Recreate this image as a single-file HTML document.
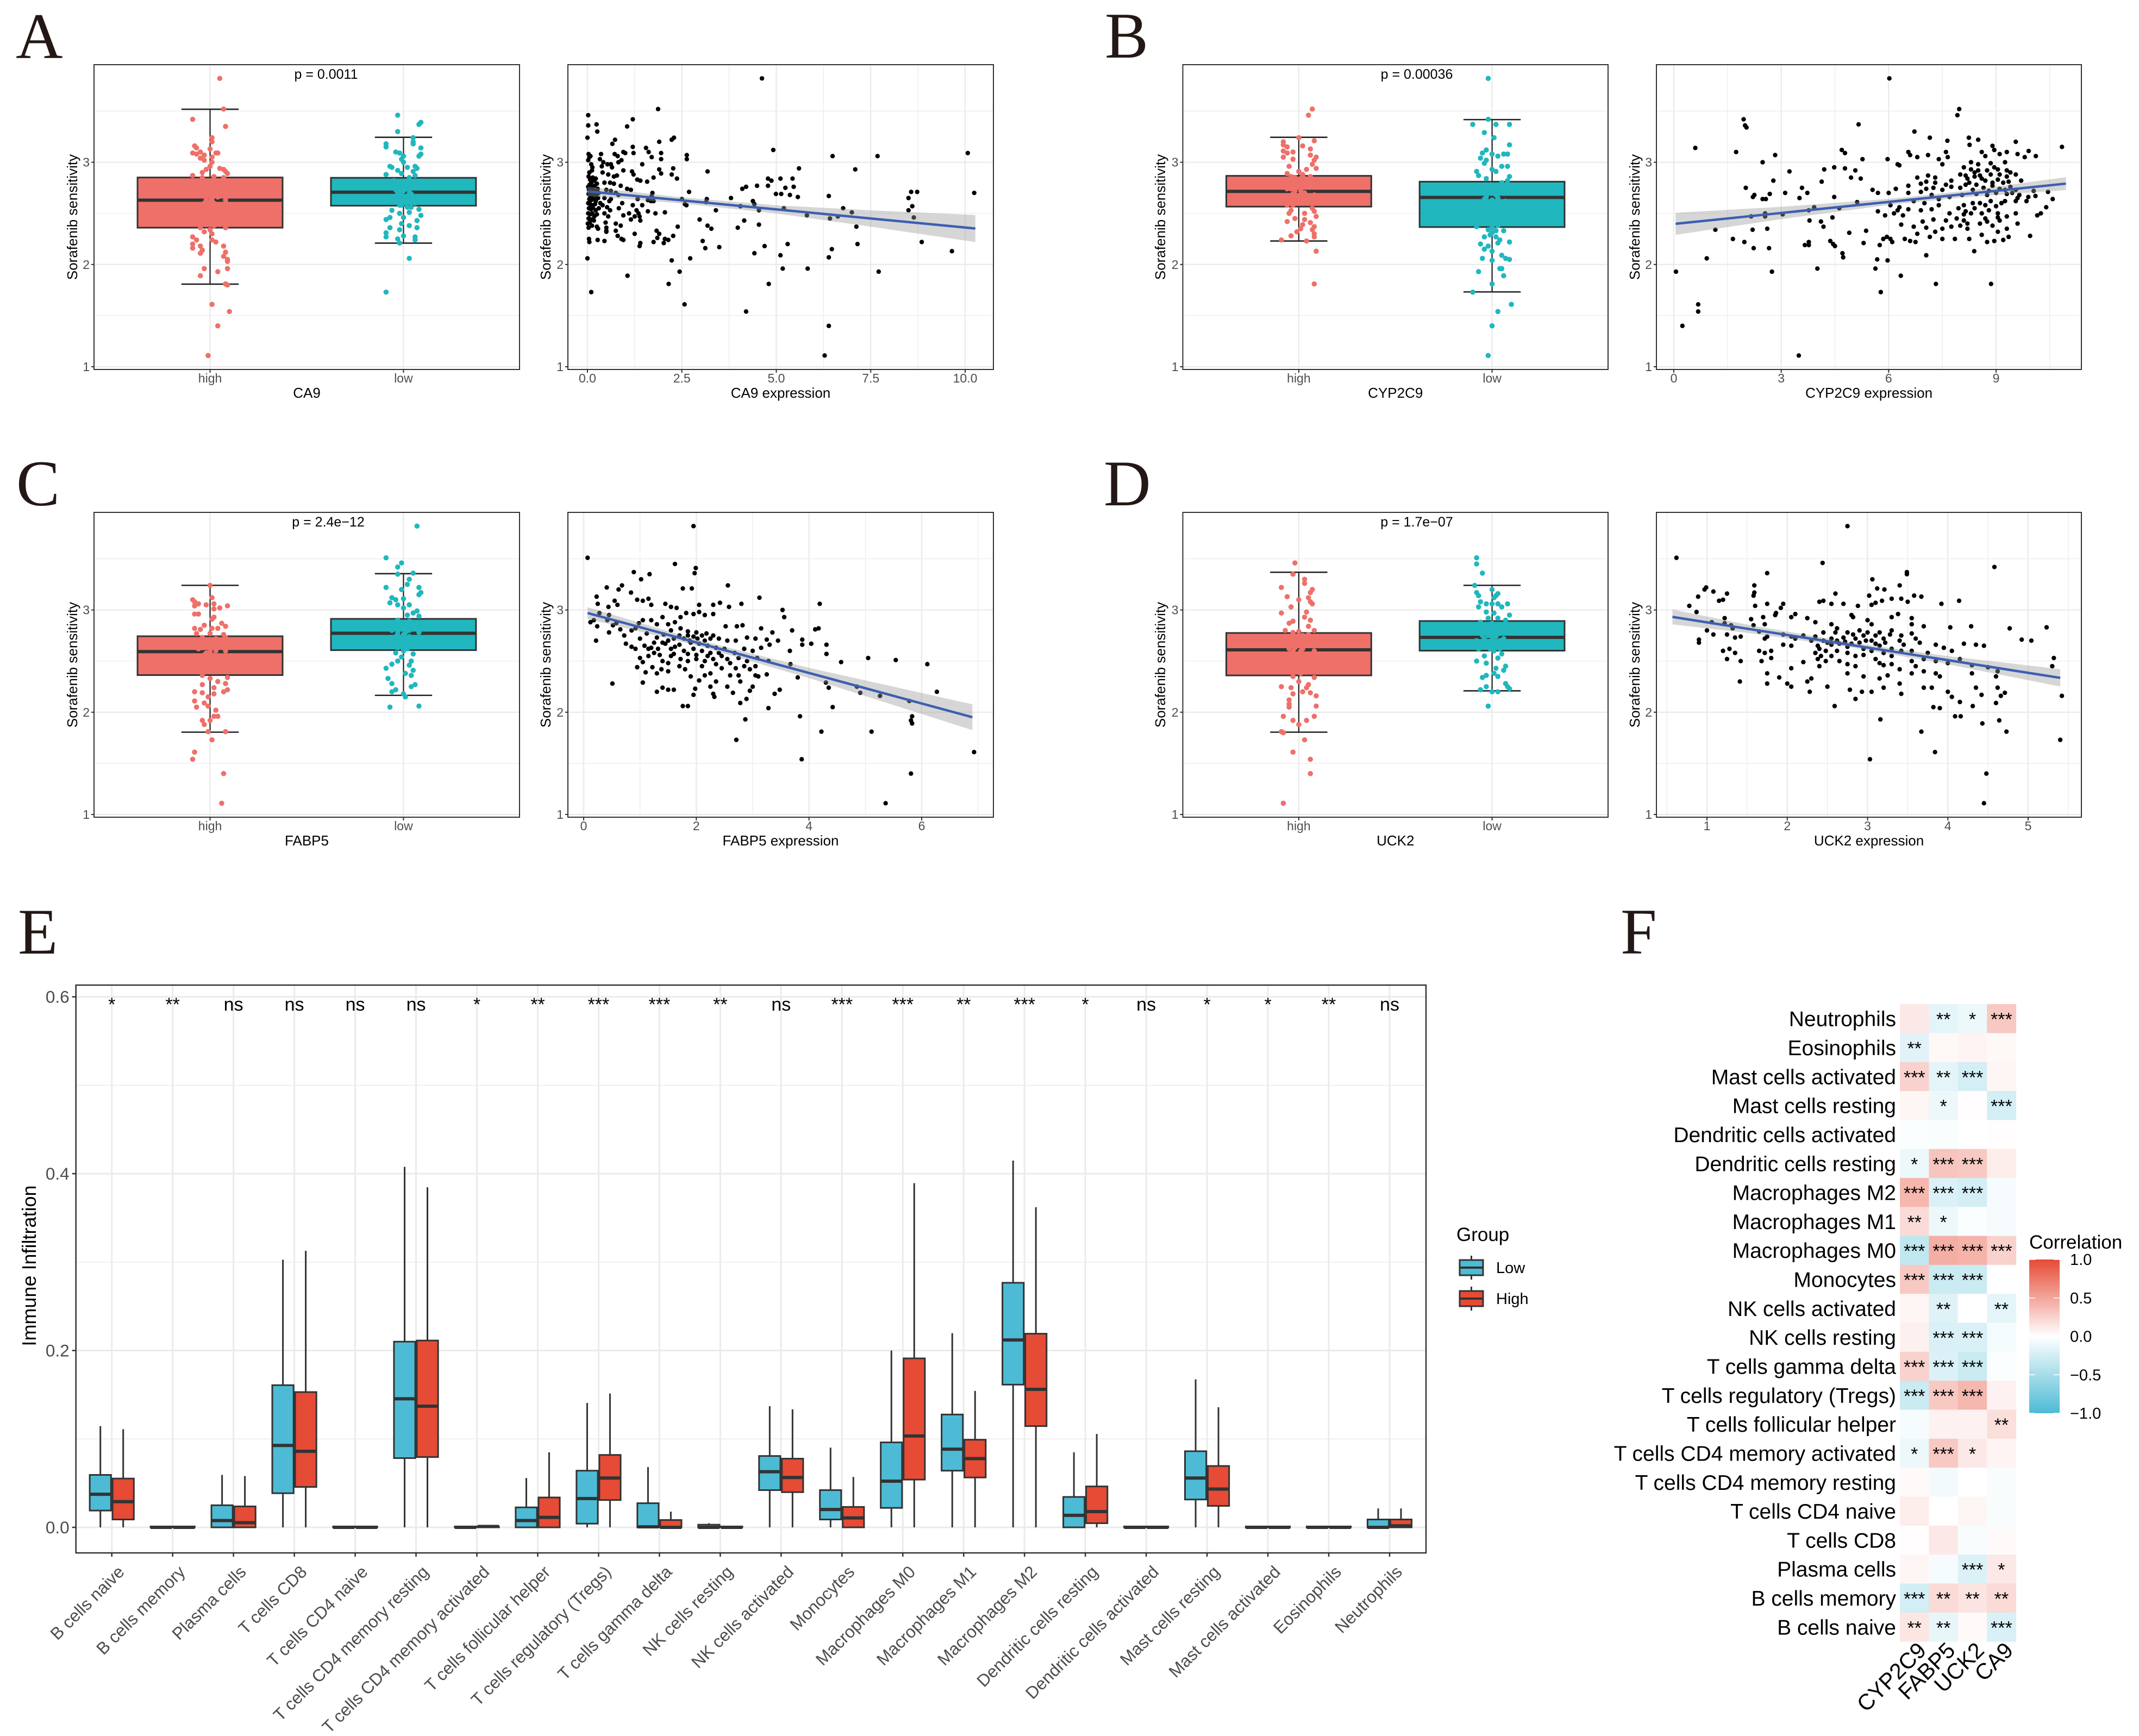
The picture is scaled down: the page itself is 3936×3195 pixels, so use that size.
<!DOCTYPE html>
<html lang="en">
<head>
<meta charset="utf-8">
<title>Sorafenib sensitivity and immune infiltration figure</title>
<style>
html,body{margin:0;padding:0;background:#fff;}
svg{display:block;font-family:"Liberation Sans",Arial,sans-serif;}
.letter{font-family:"Liberation Serif","Times New Roman",serif;font-size:120px;fill:#231815;}
</style>
</head>
<body>
<svg id="fig" xmlns="http://www.w3.org/2000/svg" width="3936" height="3195" viewBox="0 0 3936 3195">
<rect width="3936" height="3195" fill="#fff"/>
<defs>
<linearGradient id="corrGrad" x1="0" y1="0" x2="0" y2="1">
<stop offset="0" stop-color="#E64B35"/><stop offset="0.5" stop-color="#ffffff"/><stop offset="1" stop-color="#4DBBD5"/>
</linearGradient>
</defs>
<text class="letter" x="29" y="107">A</text>
<text class="letter" x="2033" y="106">B</text>
<text class="letter" x="30" y="930">C</text>
<text class="letter" x="2031" y="930">D</text>
<text class="letter" x="33" y="1755">E</text>
<text class="letter" x="2982" y="1755">F</text>
</svg>
<script>
/* ===== shared axis values ===== */
const sensTicks=[1,2,3];
const sensMinorTicks=[1.5,2.5,3.5];
const groupLabels=["high","low"];

/* ===== box summaries: lower whisker, Q1, median, Q3, upper whisker ===== */
const ca9BoxHigh=[1.808,2.36,2.629,2.851,3.518];
const ca9BoxLow=[2.209,2.575,2.707,2.848,3.244];
const cypBoxHigh=[2.23,2.566,2.715,2.867,3.244];
const cypBoxLow=[1.732,2.366,2.656,2.81,3.417];
const fabBoxHigh=[1.805,2.363,2.593,2.743,3.241];
const fabBoxLow=[2.165,2.607,2.772,2.913,3.355];
const uckBoxHigh=[1.805,2.36,2.61,2.775,3.369];
const uckBoxLow=[2.209,2.602,2.732,2.892,3.241];

/* ===== jittered points: [group position, sensitivity] ===== */
const ca9JitterHigh=[[1.05,3.82],[1.07,3.52],[0.91,3.42],[1.08,3.35],[1.01,3.24],[1.01,3.2],[0.92,3.16],[0.93,3.14],[1,3.13],[0.91,3.09],[0.93,3.08],[0.95,3.1],[0.97,3.07],[1.03,3.09],[1.04,3.09],[0.95,3.04],[0.97,3.02],[1.01,3.05],[1.01,3],[1.0,2.96],[0.98,2.93],[0.96,2.9],[1.07,2.93],[1.08,2.91],[1.09,2.89],[1.05,2.94],[0.91,2.87],[0.96,2.85],[1.02,2.86],[1.07,2.85],[0.94,2.8],[0.98,2.78],[1.03,2.79],[1.06,2.76],[0.97,2.72],[1.01,2.7],[1.06,2.68],[0.98,2.63],[1.01,2.63],[1.08,2.63],[0.96,2.58],[1.03,2.56],[0.99,2.52],[1.05,2.49],[0.96,2.46],[1.02,2.43],[0.98,2.39],[1.08,2.36],[1.0,2.34],[0.97,2.32],[1.01,2.3],[0.91,2.27],[0.93,2.24],[1.01,2.24],[1.03,2.22],[0.91,2.2],[0.95,2.18],[1.07,2.18],[0.91,2.16],[0.96,2.14],[1.08,2.12],[0.95,2.11],[1.07,2.08],[1.09,2.05],[1.09,2.03],[0.97,1.96],[1.04,1.93],[0.95,1.89],[1.09,1.96],[1.08,1.81],[1.09,1.8],[1.01,1.61],[1.1,1.54],[1.04,1.4],[0.99,1.11],[0.99,2.75],[1.02,2.74],[0.96,2.7],[1.04,2.66],[0.98,2.68],[1.0,2.62],[1.02,2.6],[0.97,2.6],[1.01,2.58],[0.99,2.55],[1.03,2.53],[0.98,2.5],[1.01,2.47],[1.04,2.45],[0.97,2.42],[1.0,2.41],[1.02,2.38],[0.95,2.36]];
const ca9JitterLow=[[1.97,3.46],[2.09,3.39],[2.08,3.37],[1.97,3.3],[2.05,3.24],[2.05,3.2],[2.05,3.18],[1.91,3.18],[1.91,3.15],[2.09,3.14],[1.96,3.1],[1.98,3.09],[2.09,3.08],[2.0,3.06],[1.99,3.03],[2.08,3.06],[2.0,3.0],[1.93,2.96],[1.94,2.95],[2.02,2.95],[2.06,2.96],[2.07,2.94],[1.97,2.92],[2.05,2.91],[1.99,2.89],[1.91,2.88],[2.06,2.87],[2.03,2.85],[1.95,2.82],[2.0,2.8],[2.07,2.8],[1.96,2.76],[2.03,2.75],[2.0,2.72],[1.97,2.7],[2.04,2.69],[2.01,2.65],[1.95,2.62],[2.06,2.6],[1.98,2.58],[2.04,2.56],[1.94,2.53],[2.08,2.54],[1.98,2.5],[2.03,2.51],[2.09,2.48],[1.93,2.46],[2.0,2.46],[2.07,2.43],[1.91,2.44],[1.99,2.4],[2.03,2.38],[2.07,2.36],[1.93,2.36],[1.98,2.34],[1.91,2.31],[2.0,2.28],[2.06,2.27],[1.91,2.27],[1.97,2.25],[1.98,2.21],[2.06,2.24],[2.03,2.06],[1.91,1.73],[1.98,2.79],[2.02,2.78],[1.96,2.73],[2.01,2.74],[1.98,2.71],[2.03,2.71],[1.99,2.68],[2.02,2.67],[1.96,2.66],[2.0,2.64],[2.03,2.63],[1.97,2.62],[2.01,2.6],[1.99,2.58],[2.02,2.56]];
const cypJitterHigh=[[1.07,3.52],[1.05,3.46],[1.0,3.24],[1.08,3.21],[0.92,3.2],[0.92,3.17],[1.02,3.16],[0.94,3.15],[1.06,3.13],[0.92,3.11],[0.94,3.09],[0.97,3.1],[1.06,3.07],[1.09,3.05],[0.92,3.05],[0.97,3.03],[1.08,3.02],[1.07,2.98],[0.95,2.96],[1.09,2.94],[1.04,2.93],[1.0,2.91],[0.94,2.89],[1.02,2.88],[1.06,2.86],[0.96,2.86],[1.03,2.84],[1.08,2.83],[0.95,2.82],[0.99,2.8],[1.05,2.79],[1.07,2.77],[0.94,2.74],[0.98,2.72],[1.03,2.7],[1.08,2.68],[0.96,2.66],[1.0,2.62],[1.05,2.6],[0.94,2.58],[1.07,2.55],[0.96,2.53],[1.08,2.52],[0.95,2.5],[1.03,2.5],[1.09,2.47],[0.98,2.45],[1.03,2.44],[0.94,2.42],[1.06,2.41],[1.02,2.39],[1.08,2.37],[1.01,2.35],[1.07,2.34],[0.99,2.32],[1.08,2.3],[0.96,2.28],[1.08,2.27],[0.91,2.24],[1.04,2.23],[1.09,2.13],[1.08,1.81],[0.98,2.85],[1.01,2.84],[0.97,2.78],[1.0,2.76],[1.03,2.77],[0.96,2.74],[1.01,2.72],[0.97,2.69],[1.02,2.68],[0.99,2.66],[1.04,2.65],[0.98,2.63],[1.02,2.6],[0.97,2.58]];
const cypJitterLow=[[1.98,3.82],[1.98,3.42],[1.9,3.37],[2.02,3.37],[2.09,3.37],[1.96,3.29],[2.01,3.24],[2.09,3.17],[1.97,3.12],[1.95,3.09],[2.0,3.08],[2.06,3.08],[2.08,3.08],[1.94,3.04],[1.97,3.02],[2.03,3.06],[1.96,2.99],[2.05,2.96],[2.08,2.96],[2.0,2.93],[1.92,2.91],[2.02,2.91],[2.09,2.86],[1.97,2.84],[1.93,2.87],[2.05,2.8],[2.08,2.82],[1.98,2.76],[2.04,2.73],[1.97,2.7],[2.02,2.68],[1.96,2.64],[2.07,2.62],[2.0,2.6],[1.95,2.56],[2.05,2.54],[1.97,2.5],[2.08,2.46],[1.98,2.42],[2.03,2.38],[1.92,2.37],[1.98,2.34],[2.06,2.33],[1.99,2.29],[1.96,2.27],[2.04,2.24],[2.09,2.22],[1.94,2.2],[1.98,2.18],[2.03,2.21],[1.96,2.15],[2.0,2.13],[2.05,2.09],[2.07,2.06],[2.09,2.05],[1.95,2.06],[2.0,2.04],[1.93,1.93],[2.04,1.96],[2.05,1.96],[2.06,1.89],[2.0,1.81],[1.9,1.73],[2.1,1.61],[2.03,1.54],[2.0,1.4],[1.98,1.11],[1.99,2.78],[2.02,2.76],[1.98,2.72],[2.01,2.7],[1.97,2.66],[2.03,2.65],[2.0,2.63],[1.97,2.61],[2.03,2.6],[2.0,2.36],[2.02,2.33],[2.0,2.31],[2.02,2.27]];
const fabJitterHigh=[[1.0,3.24],[1.01,3.12],[0.91,3.1],[0.92,3.08],[0.94,3.06],[0.98,3.05],[1.09,3.04],[1.02,3.06],[0.92,3.04],[1.05,3.02],[1.02,3.01],[0.92,2.96],[0.94,2.96],[1.02,2.93],[1.01,2.91],[0.97,2.85],[1.06,2.87],[1.08,2.84],[0.92,2.82],[0.95,2.81],[1.01,2.82],[1.04,2.82],[0.93,2.77],[1.07,2.76],[1.0,2.77],[0.96,2.73],[1.08,2.73],[0.92,2.71],[1.02,2.7],[0.98,2.66],[1.06,2.66],[0.94,2.62],[1.0,2.6],[1.08,2.6],[0.97,2.56],[1.05,2.54],[1.01,2.5],[0.95,2.46],[1.08,2.44],[1.01,2.4],[0.96,2.36],[1.09,2.34],[1.0,2.33],[1.04,2.3],[1.08,2.28],[0.96,2.27],[1.02,2.24],[1.09,2.22],[0.92,2.2],[0.96,2.19],[1.02,2.18],[1.07,2.2],[0.99,2.15],[0.92,2.11],[0.97,2.09],[0.99,2.06],[0.93,2.05],[1.03,2.02],[1.02,1.96],[1.04,1.96],[0.96,1.92],[1.0,1.92],[0.97,1.88],[0.99,1.81],[1.08,1.81],[1.01,1.73],[0.92,1.61],[0.91,1.54],[1.07,1.4],[1.06,1.11],[0.97,2.71],[1.03,2.72],[0.99,2.68],[1.05,2.64],[0.96,2.63],[1.01,2.64],[1.03,2.6],[0.98,2.58],[1.01,2.56],[0.96,2.53],[1.0,2.52],[1.03,2.48],[0.98,2.46],[1.01,2.44],[0.97,2.42],[1.04,2.4]];
const fabJitterLow=[[2.07,3.82],[1.91,3.51],[1.99,3.46],[1.97,3.42],[2.05,3.36],[1.97,3.35],[2.03,3.3],[2.02,3.25],[1.91,3.22],[1.99,3.2],[2.08,3.22],[2.09,3.17],[2.08,3.15],[1.94,3.12],[1.96,3.1],[2.0,3.11],[1.93,3.07],[1.97,3.05],[2.03,3.05],[2.0,3.02],[2.07,2.99],[2.05,2.97],[2.02,2.95],[2.08,2.94],[1.97,2.9],[1.95,2.88],[2.03,2.89],[2.07,2.87],[1.92,2.85],[1.99,2.83],[2.05,2.83],[1.94,2.8],[2.01,2.78],[2.08,2.78],[1.96,2.74],[2.04,2.72],[1.99,2.69],[2.06,2.66],[1.93,2.64],[2.02,2.62],[1.96,2.58],[2.05,2.57],[1.99,2.54],[2.04,2.5],[1.97,2.5],[1.94,2.47],[2.03,2.46],[1.91,2.43],[2.05,2.41],[2.01,2.38],[2.04,2.36],[1.92,2.33],[1.94,2.28],[2.06,2.27],[2.04,2.25],[1.96,2.22],[1.94,2.2],[2.0,2.18],[2.01,2.15],[1.93,2.05],[2.08,2.06],[1.98,2.81],[2.03,2.8],[1.97,2.77],[2.0,2.76],[2.03,2.74],[1.98,2.72],[2.01,2.7],[1.96,2.68],[2.03,2.67],[2.0,2.65],[1.97,2.63],[2.0,2.6]];
const uckJitterHigh=[[0.98,3.46],[0.97,3.35],[1.03,3.3],[1.03,3.26],[0.91,3.22],[1.07,3.2],[1.06,3.17],[0.94,3.13],[1.0,3.1],[1.05,3.12],[1.06,3.08],[1.07,3.06],[0.96,3.03],[1.04,2.98],[0.91,2.97],[1.03,2.93],[1.06,2.9],[0.97,2.89],[0.95,2.87],[1.05,2.84],[1.08,2.8],[0.93,2.8],[0.97,2.78],[1.0,2.79],[1.05,2.76],[0.93,2.73],[1.02,2.72],[0.98,2.67],[1.07,2.65],[0.95,2.62],[1.01,2.6],[1.08,2.6],[0.97,2.55],[1.04,2.52],[1.0,2.47],[0.95,2.44],[1.07,2.42],[1.01,2.38],[0.97,2.35],[1.08,2.34],[1.0,2.3],[1.05,2.27],[0.91,2.25],[0.96,2.24],[1.04,2.24],[1.02,2.2],[1.06,2.19],[0.97,2.18],[1.09,2.16],[0.95,2.12],[0.95,2.08],[0.95,2.05],[1.09,2.06],[1.08,1.96],[0.92,1.96],[0.97,1.92],[1.04,1.92],[1.0,1.88],[0.91,1.81],[0.92,1.8],[1.03,1.73],[0.97,1.61],[1.06,1.54],[1.06,1.4],[0.92,1.11],[0.98,2.74],[1.02,2.75],[0.96,2.7],[1.01,2.68],[1.04,2.66],[0.98,2.63],[1.02,2.62],[0.97,2.6],[1.0,2.57],[1.03,2.56],[0.98,2.53],[1.01,2.5],[1.03,2.46],[0.98,2.43]];
const uckJitterLow=[[1.92,3.51],[1.92,3.45],[1.95,3.36],[1.91,3.24],[2.0,3.2],[1.92,3.17],[2.03,3.16],[2.02,3.14],[1.93,3.14],[2.01,3.12],[1.94,3.08],[1.97,3.06],[2.0,3.06],[2.03,3.06],[2.08,3.06],[1.93,3.03],[2.05,3.03],[1.97,2.98],[2.01,2.97],[2.09,2.95],[1.98,2.92],[2.03,2.92],[2.07,2.9],[1.94,2.88],[2.0,2.87],[2.05,2.85],[1.92,2.83],[1.97,2.8],[2.03,2.81],[2.08,2.78],[1.95,2.75],[2.0,2.73],[2.06,2.72],[1.92,2.7],[2.03,2.68],[1.97,2.66],[2.08,2.64],[1.93,2.62],[2.01,2.6],[2.05,2.57],[1.96,2.55],[2.03,2.53],[1.92,2.5],[1.97,2.48],[2.07,2.45],[2.02,2.43],[2.06,2.41],[2.01,2.38],[1.97,2.36],[2.03,2.35],[1.95,2.34],[2.07,2.28],[2.08,2.25],[1.97,2.25],[2.09,2.23],[1.94,2.22],[2.0,2.2],[2.03,2.2],[1.98,2.06],[1.98,2.85],[2.02,2.84],[1.96,2.78],[2.0,2.78],[2.04,2.77],[1.98,2.75],[2.02,2.74],[1.96,2.72],[2.0,2.7],[2.04,2.7],[1.98,2.68],[2.01,2.66],[1.96,2.64],[2.04,2.62],[1.99,2.62]];

/* ===== scatter data: [expression, sensitivity] ===== */
const ca9Scatter=[[4.62,3.82],[1.87,3.52],[0.02,3.46],[1.2,3.42],[0.02,3.36],[0.24,3.37],[1.05,3.35],[0.26,3.3],[2.29,3.24],[2.23,3.22],[0,3.24],[1.9,3.2],[0.73,3.22],[0.66,3.18],[4.92,3.12],[2.63,3.07],[2.63,3.03],[6.49,3.06],[7.68,3.06],[10.07,3.09],[5.6,2.94],[7.09,2.93],[3.18,2.91],[0,2.06],[2.72,2.06],[2.23,2.04],[6.39,2.07],[5.11,2.09],[4.42,2.11],[6.47,2.15],[5.3,2.2],[4.69,2.18],[3.49,2.17],[3.12,2.16],[3.05,2.23],[7.15,2.2],[8.85,2.22],[9.65,2.13],[1.06,1.89],[2.44,1.93],[5.17,1.96],[5.83,1.96],[7.71,1.93],[2.15,1.81],[4.8,1.81],[0.1,1.73],[2.57,1.61],[4.2,1.54],[6.39,1.4],[6.28,1.11],[8.6,2.57],[8.5,2.53],[8.64,2.46],[7.12,2.37],[7,2.51],[6.77,2.55],[6.63,2.47],[6.42,2.45],[5.81,2.48],[5.2,2.55],[4.54,2.53],[4.54,2.39],[3.98,2.36],[4.15,2.43],[2.97,2.44],[3.18,2.38],[3.28,2.35],[3.4,2.53],[4.05,2.57],[4.42,2.59],[4.38,2.62],[3.8,2.65],[3.16,2.64],[3.14,2.61],[2.58,2.59],[2.62,2.58],[2.5,2.64],[2.69,2.71],[6.39,2.67],[5.57,2.66],[5.36,2.68],[5.13,2.69],[4.99,2.69],[5.46,2.76],[5.24,2.75],[5.43,2.84],[5.11,2.84],[4.87,2.82],[4.78,2.84],[4.78,2.77],[4.49,2.77],[4.2,2.76],[4.1,2.74],[8.5,2.65],[8.57,2.71],[8.73,2.71],[10.24,2.7],[2.39,2.37],[2.37,2.84],[2.23,2.88],[2.27,2.94],[1.95,2.89],[1.9,2.93],[1.45,2.98],[0.03,3.08],[0.05,3.05],[0.08,3.06],[0.02,3.02],[0.1,2.98],[0.13,2.95],[0.12,2.92],[0.05,2.9],[0.03,2.86],[0.07,2.83],[0.14,2.85],[0.18,2.82],[0.22,2.84],[0.1,2.8],[0.06,2.78],[0.02,2.76],[0.12,2.76],[0.19,2.77],[0.25,2.79],[0.04,2.73],[0.09,2.71],[0.15,2.73],[0.21,2.72],[0.27,2.74],[0.03,2.69],[0.08,2.67],[0.13,2.68],[0.18,2.69],[0.24,2.67],[0.3,2.7],[0.05,2.64],[0.1,2.63],[0.16,2.64],[0.22,2.62],[0.28,2.65],[0.02,2.6],[0.07,2.59],[0.12,2.58],[0.2,2.59],[0.34,2.6],[0.04,2.55],[0.09,2.54],[0.15,2.55],[0.22,2.53],[0.3,2.55],[0.02,2.5],[0.07,2.49],[0.13,2.5],[0.18,2.47],[0.25,2.49],[0.03,2.45],[0.1,2.44],[0.17,2.43],[0.01,2.4],[0.06,2.41],[0.12,2.38],[0.03,2.36],[0.25,2.37],[0.28,2.35],[0.04,2.25],[0.05,2.22],[0.27,2.24],[0.45,2.23],[0.5,2.36],[0.5,2.33],[0.36,3.08],[0.33,3.03],[0.53,2.98],[0.62,2.98],[0.42,3],[0.38,2.96],[0.4,2.9],[0.55,2.88],[0.7,2.86],[0.78,2.87],[0.95,2.92],[1.18,2.91],[1.22,2.88],[1.32,2.83],[1.4,2.82],[1.58,2.81],[1.75,2.85],[0.45,2.8],[0.6,2.8],[0.7,2.79],[0.88,2.77],[1.05,2.74],[1.15,2.73],[0.5,2.73],[0.62,2.72],[0.75,2.7],[0.82,2.68],[1.72,2.7],[1.7,2.67],[1.6,2.63],[1.68,2.62],[1.75,2.62],[1.33,2.64],[1.45,2.58],[0.45,2.65],[0.58,2.62],[0.62,2.64],[0.4,2.58],[0.52,2.56],[0.6,2.53],[0.83,2.55],[0.92,2.6],[1.2,2.58],[1.3,2.53],[1.1,2.5],[1.25,2.47],[1.35,2.5],[1.38,2.47],[1.6,2.52],[1.8,2.5],[2.05,2.51],[0.45,2.5],[0.55,2.47],[0.95,2.48],[1.15,2.44],[1.4,2.43],[0.75,2.4],[0.88,2.38],[0.48,2.41],[0.75,2.33],[0.8,2.28],[0.9,2.25],[0.95,2.24],[0.5,2.32],[1.25,2.3],[1.4,2.21],[1.38,2.18],[1.75,2.22],[1.85,2.26],[1.9,2.3],[1.83,2.33],[2.02,2.21],[2.05,2.25],[2.14,2.24],[2.27,2.28],[0.72,3.08],[0.8,3.06],[0.95,3.1],[1.0,3.09],[1.2,3.15],[1.22,3.09],[1.55,3.14],[1.62,3.1],[1.95,3.09],[1.95,3.03],[1.7,3.05],[0.9,3.02],[0.65,2.95],[0.82,3.0]];
const cypScatter=[[6.02,3.82],[7.97,3.52],[7.92,3.46],[1.95,3.42],[1.99,3.36],[2.03,3.34],[5.16,3.37],[6.72,3.3],[7.15,3.24],[8.24,3.24],[8.5,3.22],[7.64,3.21],[8.26,3.17],[0.6,3.14],[1.74,3.1],[4.69,3.12],[4.78,3.09],[2.83,3.07],[2.48,3],[5.27,3.03],[3.23,2.91],[4.2,2.93],[4.48,2.95],[4.78,2.94],[5.07,2.92],[5.97,3.03],[4.13,2.81],[4.95,2.85],[5.22,2.84],[2.78,2.82],[2.01,2.75],[3.58,2.75],[3.73,2.7],[3.11,2.7],[2.68,2.69],[2.25,2.68],[2.21,2.66],[2.48,2.64],[2.57,2.64],[3.51,2.65],[4.48,2.66],[5.12,2.61],[3.92,2.56],[3.77,2.53],[4.62,2.55],[2.16,2.47],[2.55,2.5],[2.55,2.47],[3.04,2.49],[3.79,2.43],[4.11,2.42],[4.18,2.37],[4.43,2.46],[1.16,2.34],[2.2,2.34],[2.61,2.35],[4.9,2.31],[5.37,2.33],[1.65,2.25],[1.97,2.22],[2.23,2.16],[2.66,2.16],[3.66,2.19],[3.77,2.22],[3.77,2.19],[4.37,2.23],[4.45,2.2],[4.5,2.18],[4.71,2.11],[4.73,2.07],[0.92,2.06],[2.74,1.93],[4.01,1.96],[0.06,1.93],[5.68,2.05],[5.97,2.04],[5.63,1.96],[6.34,1.89],[7.32,1.81],[5.78,1.73],[8.86,1.81],[8.39,2.13],[7.05,2.09],[0.68,1.61],[0.68,1.54],[0.24,1.4],[3.49,1.11],[10.84,3.15],[10.58,2.64],[10.11,3.06],[9.91,3.11],[6.55,3.1],[6.6,3.07],[6.8,3.05],[7.4,3.03],[7.1,3.07],[7.6,3.1],[7.65,3.05],[8.9,3.16],[8.95,3.12],[9.1,3.08],[9.3,3.1],[9.55,3.2],[9.6,3.08],[9.8,3.05],[8.6,3.1],[8.7,3.06],[8.3,3.0],[8.5,2.98],[8.85,2.99],[9.25,3],[7.5,2.98],[6.25,2.98],[6.3,2.97],[8.1,2.95],[8.5,2.92],[8.75,2.92],[8.85,2.88],[9.05,2.93],[9.3,2.92],[9.4,2.9],[9.55,2.88],[9.3,2.86],[9.7,2.82],[8,2.88],[8.15,2.87],[8.2,2.84],[8.4,2.86],[8.6,2.84],[8.9,2.8],[9.05,2.83],[7.75,2.82],[7.3,2.85],[7.1,2.87],[7.05,2.81],[6.8,2.85],[6.55,2.77],[6.9,2.79],[7.25,2.75],[7.5,2.73],[7.75,2.76],[8,2.75],[8.15,2.78],[8.35,2.73],[8.65,2.75],[8.9,2.77],[9.1,2.74],[9.4,2.76],[9.55,2.73],[10.05,2.72],[9.9,2.66],[10.1,2.67],[10.45,2.71],[9.65,2.68],[9.3,2.69],[9,2.7],[8.75,2.68],[8.45,2.69],[8.05,2.68],[7.7,2.66],[7.4,2.64],[7.2,2.68],[6.9,2.71],[6.55,2.7],[6.2,2.74],[6,2.7],[5.7,2.7],[5.55,2.73],[6.05,2.58],[6.3,2.56],[6.55,2.54],[6.25,2.53],[6.9,2.53],[7.2,2.54],[7.7,2.5],[7.95,2.55],[8.1,2.58],[8.35,2.6],[8.55,2.6],[8.85,2.62],[9.15,2.6],[9.55,2.62],[9.85,2.62],[10.4,2.56],[10.25,2.5],[10.15,2.48],[9.55,2.5],[9.3,2.47],[9.05,2.5],[8.8,2.53],[8.6,2.5],[8.3,2.5],[8.1,2.49],[7.9,2.45],[7.6,2.43],[7.25,2.44],[6.95,2.42],[6.4,2.48],[6.15,2.5],[5.7,2.52],[5.9,2.48],[6.35,2.39],[6.7,2.37],[7.05,2.36],[7.5,2.35],[7.75,2.37],[8,2.38],[8.2,2.35],[8.55,2.4],[8.75,2.42],[9.1,2.43],[9.6,2.4],[9.3,2.35],[9.05,2.32],[8.6,2.29],[8.25,2.25],[7.85,2.25],[7.5,2.25],[7.15,2.27],[6.6,2.23],[6.45,2.25],[6.05,2.25],[5.95,2.27],[5.85,2.25],[6.1,2.22],[5.75,2.19],[5.3,2.21],[6.75,2.22],[8.75,2.22],[8.95,2.23],[9.35,2.27],[9.95,2.28],[7.3,2.32],[6.8,2.3],[9.2,2.24],[8.3,2.93],[8.4,2.9],[8.55,2.87],[8.7,2.82],[8.25,2.8],[8.45,2.78],[8.8,2.72],[9.2,2.8],[9.25,2.73],[9.45,2.7],[9.6,2.65],[9.25,2.62],[9,2.57],[8.7,2.58],[8.4,2.55],[8.15,2.52],[7.4,2.58],[7,2.6],[6.7,2.62],[7.6,2.78],[7.3,2.8],[7.05,2.74],[8.95,2.95],[9.1,2.88],[9.35,2.81],[8.2,2.4],[8.1,2.43],[8.7,2.45],[8.9,2.38],[9.05,2.46]];
const fabScatter=[[1.95,3.82],[0.07,3.51],[1.62,3.45],[1.99,3.41],[1.97,3.36],[0.89,3.37],[1.17,3.35],[1.02,3.3],[2.56,3.24],[0.68,3.24],[0.41,3.22],[0.62,3.2],[1.76,3.21],[1.92,3.21],[0.84,3.17],[0.23,3.13],[3.12,3.12],[4.19,3.06],[3.53,3],[3.56,2.93],[4.11,2.81],[4.17,2.82],[3.7,2.8],[4.57,2.49],[4.31,2.66],[4.31,2.57],[4.04,2.67],[3.88,2.71],[3.88,2.66],[3.66,2.6],[3.67,2.47],[3.8,2.34],[4.3,2.29],[4.35,2.24],[3.48,2.22],[3.39,2.18],[4.42,2.05],[3.28,2.04],[3.84,1.96],[2.87,1.93],[2.78,2.09],[2.89,2.13],[2.71,1.73],[4.22,1.81],[5.11,1.81],[3.87,1.54],[6.93,1.61],[5.81,1.4],[5.36,1.11],[5.83,1.96],[5.81,1.92],[5.83,1.89],[5.78,2.11],[6.27,2.2],[6.1,2.47],[5.54,2.51],[5.05,2.53],[4.85,2.25],[4.91,2.19],[5.26,2.16],[1.85,2.06],[1.76,2.06],[0.51,2.28],[0.22,2.7],[0.25,3.06],[0.44,3.03],[0.55,3.09],[0.6,3.05],[0.95,3.1],[1.05,3.09],[1.15,3.11],[1.2,3.05],[1.45,3.06],[1.55,3.03],[1.65,3.02],[2.05,3.05],[2.3,3.05],[2.42,3.07],[2.58,3.03],[2.8,3.06],[0.45,2.95],[0.28,2.97],[0.18,2.9],[0.24,2.84],[0.12,2.88],[0.42,2.9],[0.52,2.85],[0.58,2.87],[0.65,2.81],[0.72,2.75],[0.85,2.8],[0.92,2.82],[0.98,2.87],[1.05,2.9],[1.2,2.9],[1.3,2.86],[1.4,2.93],[1.5,2.86],[1.62,2.88],[1.72,2.93],[1.82,2.97],[1.95,2.96],[2.05,2.98],[2.15,2.95],[2.3,2.96],[2.52,2.84],[2.72,2.84],[2.82,2.85],[3.15,2.82],[3.35,2.78],[0.45,2.78],[0.75,2.67],[0.85,2.64],[0.92,2.62],[1.0,2.72],[1.12,2.77],[1.3,2.73],[1.42,2.76],[1.55,2.8],[1.72,2.82],[1.85,2.79],[2,2.78],[2.18,2.77],[2.3,2.75],[2.4,2.72],[2.55,2.7],[2.7,2.7],[2.9,2.73],[3.05,2.72],[3.25,2.71],[3.45,2.7],[1.08,2.65],[1.2,2.63],[1.32,2.62],[1.45,2.67],[1.62,2.64],[1.78,2.6],[1.9,2.68],[2.05,2.67],[2.2,2.65],[2.35,2.63],[2.5,2.62],[2.68,2.58],[2.85,2.62],[3,2.6],[3.15,2.63],[3.3,2.66],[1.0,2.53],[1.05,2.49],[1.25,2.58],[1.4,2.5],[1.55,2.55],[1.72,2.52],[1.85,2.5],[2,2.52],[2.15,2.5],[2.3,2.52],[2.45,2.55],[2.6,2.48],[2.75,2.53],[2.9,2.5],[3.08,2.53],[3.28,2.5],[0.95,2.44],[1.22,2.44],[1.38,2.42],[1.5,2.4],[1.8,2.42],[2.1,2.45],[2.25,2.38],[2.45,2.43],[2.6,2.36],[2.75,2.36],[2.95,2.42],[3.1,2.35],[3.25,2.37],[1.1,2.39],[1.05,2.29],[1.3,2.38],[1.9,2.35],[2.05,2.31],[2.15,2.36],[2.35,2.3],[2.55,2.25],[2.78,2.3],[3,2.25],[3.05,2.36],[1.3,2.2],[1.4,2.24],[1.5,2.22],[1.6,2.22],[1.95,2.17],[1.98,2.23],[2.25,2.25],[2.3,2.18],[2.32,2.15],[2.65,2.19],[2.95,2.21],[1.85,2.75],[1.95,2.74],[2.02,2.72],[2.1,2.75],[1.78,2.72],[1.88,2.7],[2.15,2.7],[2.25,2.72],[1.7,2.75],[1.6,2.72],[1.5,2.7],[1.4,2.68],[1.25,2.68],[1.15,2.62],[1.55,2.62],[1.7,2.66],[1.95,2.62],[2.1,2.6],[2.25,2.58],[2.4,2.58],[1.6,2.57],[1.85,2.57],[2,2.56],[1.15,2.55],[1.35,2.56],[1.5,2.48],[2.2,2.55],[2.55,2.52],[2.7,2.43],[2.85,2.45],[3.05,2.45],[1.7,2.45],[2.35,2.47]];
const uckScatter=[[2.75,3.82],[0.62,3.51],[2.44,3.46],[4.58,3.42],[3.49,3.37],[3.49,3.35],[1.75,3.36],[3.06,3.3],[1.59,3.24],[3.4,3.24],[0.99,3.22],[0.97,3.2],[1.08,3.18],[1.25,3.16],[1.59,3.17],[3.12,3.21],[3.21,3.2],[2.6,3.16],[3.58,3.14],[3.67,3.13],[4.14,3.09],[3.92,3.06],[0.89,3.13],[0.78,3.04],[0.87,2.98],[5.23,2.83],[4.77,2.82],[4.92,2.71],[5.04,2.7],[4.29,2.84],[4.03,2.83],[5.32,2.53],[5.3,2.45],[5.42,2.16],[5.4,1.73],[4.73,1.81],[4.64,1.92],[4.43,1.89],[4.16,1.96],[4.09,1.96],[3.9,2.04],[3.82,2.05],[4.31,2.06],[4.6,2.09],[4.71,2.19],[4.66,2.16],[4.62,2.24],[3.67,1.81],[3.16,1.93],[2.59,2.06],[2.85,2.13],[3.84,1.61],[3.03,1.54],[4.48,1.4],[4.45,1.11],[1.41,2.3],[0.9,2.68],[0.9,2.71],[1.15,3.09],[1.2,3.1],[1.58,3.14],[1.6,3.04],[1.75,3.06],[1.95,3.06],[1.92,3.02],[2.4,3.08],[2.45,3.09],[2.55,3.06],[2.7,3.06],[2.88,3.04],[3.02,3.14],[3.05,3.05],[3.1,3.07],[3.18,3.09],[3.3,3.11],[3.42,3.11],[3.5,3.08],[1.86,2.97],[1.85,2.95],[1.06,2.88],[1.22,2.92],[1.22,2.87],[1.3,2.85],[1.32,2.82],[1.55,2.91],[1.7,2.93],[1.58,2.85],[1.72,2.86],[2.05,2.93],[2.1,2.96],[2.25,2.92],[2.35,2.88],[2.55,2.86],[2.62,2.82],[2.8,2.95],[2.82,2.93],[3.0,2.9],[3.05,2.86],[3.3,2.93],[3.38,2.96],[3.55,2.92],[3.55,2.86],[3.7,2.84],[1.0,2.8],[1.08,2.76],[1.25,2.76],[1.35,2.73],[1.42,2.74],[1.65,2.79],[1.75,2.74],[1.72,2.72],[1.95,2.76],[2.05,2.74],[2.2,2.75],[2.35,2.74],[2.45,2.78],[2.6,2.78],[2.75,2.78],[2.9,2.8],[3,2.78],[3.15,2.78],[3.3,2.8],[3.42,2.75],[3.55,2.77],[2.1,2.72],[2.3,2.7],[2.55,2.72],[2.7,2.73],[2.85,2.72],[3.05,2.7],[3.2,2.72],[3.4,2.7],[3.65,2.68],[3.85,2.66],[3.95,2.63],[4.2,2.67],[4.35,2.66],[4.45,2.65],[1.95,2.66],[2.05,2.65],[2.38,2.65],[2.55,2.66],[2.75,2.64],[2.95,2.62],[3.15,2.65],[3.3,2.62],[3.55,2.6],[3.75,2.58],[4.05,2.6],[1.2,2.6],[1.28,2.62],[1.35,2.58],[1.65,2.6],[1.72,2.58],[1.8,2.6],[2.35,2.58],[2.55,2.55],[2.85,2.55],[3.1,2.52],[3.3,2.55],[3.55,2.5],[3.7,2.52],[3.85,2.5],[4,2.48],[4.15,2.52],[4.3,2.46],[4.5,2.44],[4.62,2.4],[4.6,2.35],[1.25,2.52],[1.42,2.5],[1.68,2.5],[1.8,2.53],[2.2,2.49],[2.38,2.52],[2.65,2.5],[2.75,2.47],[3.2,2.46],[3.4,2.42],[3.6,2.45],[3.7,2.4],[3.85,2.38],[3.9,2.35],[4.3,2.38],[2.05,2.43],[2.75,2.38],[2.95,2.35],[3.15,2.33],[3.25,2.36],[3.55,2.38],[1.75,2.38],[1.9,2.34],[2.3,2.33],[1.75,2.28],[2,2.28],[2.05,2.25],[2.25,2.3],[2.28,2.2],[2.5,2.25],[2.78,2.22],[2.93,2.2],[3.05,2.2],[3.2,2.24],[3.4,2.28],[3.42,2.18],[3.7,2.24],[3.8,2.24],[4.0,2.2],[4.05,2.15],[4.15,2.1],[4.35,2.24],[4.42,2.17],[2.62,2.7],[2.65,2.67],[2.72,2.69],[2.8,2.67],[2.45,2.7],[2.5,2.68],[2.4,2.62],[2.48,2.6],[2.9,2.68],[2.98,2.7],[3.1,2.67],[3.22,2.68],[3.28,2.76],[3.1,2.75],[2.95,2.75],[2.82,2.76],[2.42,2.55],[2.48,2.5],[2.62,2.6],[2.75,2.58],[2.95,2.56],[3.05,2.6],[3.2,2.58],[3.42,2.6],[3.45,2.66],[3.6,2.72],[3.15,2.48],[3.3,2.47],[2.4,2.45],[2.85,2.45]];

/* ===== regression fit and confidence band ===== */
const ca9FitX=[0,2.5,5,7.5,10.27];
const ca9Fit=[2.715,2.627,2.539,2.45,2.352];
const ca9FitHalf=[0.045,0.03,0.04,0.08,0.132];
const cypFitX=[0.05,3,6,8,10.95];
const cypFit=[2.398,2.504,2.612,2.684,2.791];
const cypFitHalf=[0.108,0.06,0.03,0.03,0.063];
const fabFitX=[0.07,2,4,5.5,6.9];
const fabFit=[2.97,2.682,2.384,2.16,1.951];
const fabFitHalf=[0.057,0.028,0.05,0.09,0.126];
const uckFitX=[0.57,1.5,2.8,4,5.4];
const uckFit=[2.932,2.817,2.657,2.509,2.336];
const uckFitHalf=[0.073,0.04,0.024,0.04,0.085];

/* ===== scatter x tick labels ===== */
const ca9XTicks=[0,2.5,5,7.5,10];
const ca9XLabels=["0.0","2.5","5.0","7.5","10.0"];
const cypXTicks=[0,3,6,9];
const cypXLabels=["0","3","6","9"];
const fabXTicks=[0,2,4,6];
const fabXLabels=["0","2","4","6"];
const uckXTicks=[1,2,3,4,5];
const uckXLabels=["1","2","3","4","5"];

/* ===== panel E values ===== */
const cellTypes=["B cells naive","B cells memory","Plasma cells","T cells CD8","T cells CD4 naive","T cells CD4 memory resting","T cells CD4 memory activated","T cells follicular helper","T cells regulatory (Tregs)","T cells gamma delta","NK cells resting","NK cells activated","Monocytes","Macrophages M0","Macrophages M1","Macrophages M2","Dendritic cells resting","Dendritic cells activated","Mast cells resting","Mast cells activated","Eosinophils","Neutrophils"];
const sigLabels=["*","**","ns","ns","ns","ns","*","**","***","***","**","ns","***","***","**","***","*","ns","*","*","**","ns"];
const lowTop=[.1145,.001,.0593,.3027,.001,.4077,.001,.0558,.1407,.0682,.0047,.137,.0902,.2,.2196,.4148,.0849,.001,.1674,.001,.001,.0214];
const lowQ3=[.0593,.001,.025,.1608,.001,.21,.001,.0226,.0641,.0273,.003,.0807,.0421,.0961,.1276,.2766,.0344,.001,.0861,.001,.001,.0089];
const lowMedian=[.0374,0,.0077,.0926,0,.1454,0,.0077,.0326,.0006,0,.0629,.0202,.0522,.0884,.2119,.0136,0,.0558,0,0,0];
const lowQ1=[.019,0,0,.0386,0,.0783,0,0,.0042,0,0,.0421,.0089,.022,.0641,.1614,0,0,.0315,0,0,0];
const lowBottom=[0,0,0,0,0,0,0,0,0,0,0,0,0,0,0,0,0,0,0,0,0,0];
const highTop=[.111,.001,.058,.3128,.001,.3846,.001,.0849,.1513,.0178,.001,.1335,.057,.3893,.1543,.362,.1056,.001,.1359,.001,.001,.0214];
const highQ3=[.0552,.001,.0237,.153,.001,.2113,.001,.0338,.0819,.0083,.001,.0777,.0231,.1911,.0991,.219,.0463,.001,.0694,.001,.001,.0089];
const highMedian=[.029,0,.0053,.086,0,.137,.001,.0113,.0558,0,0,.0564,.0107,.1033,.0777,.1561,.0178,0,.0433,0,0,.0018];
const highQ1=[.0089,0,0,.0457,0,.0795,0,0,.0309,0,0,.0398,0,.054,.0564,.1145,.0047,0,.0243,0,0,0];
const highBottom=[0,0,0,0,0,0,0,0,0,0,0,0,0,0,0,0,0,0,0,0,0,0];
const infilTicks=[0,0.2,0.4,0.6];
const infilLabels=["0.0","0.2","0.4","0.6"];
const infilMinor=[0.1,0.3,0.5];

/* ===== panel F values ===== */
const heatRows=["Neutrophils","Eosinophils","Mast cells activated","Mast cells resting","Dendritic cells activated","Dendritic cells resting","Macrophages M2","Macrophages M1","Macrophages M0","Monocytes","NK cells activated","NK cells resting","T cells gamma delta","T cells regulatory (Tregs)","T cells follicular helper","T cells CD4 memory activated","T cells CD4 memory resting","T cells CD4 naive","T cells CD8","Plasma cells","B cells memory","B cells naive"];
const heatCols=["CYP2C9","FABP5","UCK2","CA9"];
const corrCYP2C9=[.12,-.17,.25,.05,-.02,-.1,.4,.2,-.35,.3,.05,.08,.25,-.3,-.05,-.1,.03,.1,.01,.05,-.25,.14];
const corrFABP5=[-.15,.04,-.15,-.1,-.03,.32,-.2,-.1,.45,-.3,-.18,-.22,-.2,.3,.07,.3,-.07,0,.12,-.05,.2,-.13];
const corrUCK2=[-.1,.06,-.25,.01,0,.3,-.25,-.02,.42,-.3,0,-.22,-.3,.4,.07,.12,0,.05,-.04,-.2,.15,.03];
const corrCA9=[.3,.04,.05,-.25,.01,.1,-.05,-.05,.25,0,-.15,-.06,-.02,.07,.18,.06,-.04,-.04,.03,.12,.2,-.22];
const starsCYP2C9=["","**","***","","","*","***","**","***","***","","","***","***","","*","","","","","***","**"];
const starsFABP5=["**","","**","*","","***","***","*","***","***","**","***","***","***","","***","","","","","**","**"];
const starsUCK2=["*","","***","","","***","***","","***","***","","***","***","***","","*","","","","***","**",""];
const starsCA9=["***","","","***","","","","","***","","**","","","","**","","","","","*","**","***"];
const corrLegendTicks=[1,0.5,0,-0.5,-1];
const corrLegendLabels=["1.0","0.5","0.0","−0.5","−1.0"];

/* ===== drawing ===== */
const svg=document.getElementById('fig');
const NS='http://www.w3.org/2000/svg';
function mk(tag,attrs,parent,name,interactable){
  const el=document.createElementNS(NS,tag);
  for(const k in attrs)el.setAttribute(k,attrs[k]);
  
  
  (parent||svg).appendChild(el);
  return el;
}
function txt(s,x,y,size,fill,anchor,parent,name,transform){
  const a={x:x,y:y,'font-size':size,fill:fill,'text-anchor':anchor};
  if(transform)a.transform=transform;
  const el=mk('text',a,parent,name);
  el.textContent=s;
  return el;
}
function linear(d0,d1,r0,r1){return v=>r0+(v-d0)*(r1-r0)/(d1-d0);}
const GRID='#ebebeb',BORDER='#333333',TICKTXT='#4d4d4d',RED='#EE7069',TEAL='#20B7BE';

function panelFrame(g,L,R,T,B,yS){
  mk('rect',{x:L,y:T,width:R-L,height:B-T,fill:'#fff'},g,'panel-background');
  sensMinorTicks.forEach(v=>mk('line',{x1:L,x2:R,y1:yS(v),y2:yS(v),stroke:GRID,'stroke-width':1.2},g,'y-minor-gridline'));
  sensTicks.forEach(v=>mk('line',{x1:L,x2:R,y1:yS(v),y2:yS(v),stroke:GRID,'stroke-width':2.4},g,'y-major-gridline'));
}
function panelBorder(g,L,R,T,B,yS,titleX){
  mk('rect',{x:L,y:T,width:R-L,height:B-T,fill:'none',stroke:BORDER,'stroke-width':2},g,'panel-border');
  sensTicks.forEach(v=>{
    mk('line',{x1:L-5,x2:L,y1:yS(v),y2:yS(v),stroke:BORDER,'stroke-width':2},g,'y-tick');
    txt(String(v),L-8,yS(v)+8,23,TICKTXT,'end',g,'y-tick-label');
  });
  const cy=(T+B)/2;
  txt('Sorafenib sensitivity',titleX,cy,26,'#000','middle',g,'y-axis-title','rotate(-90 '+titleX+' '+cy+')');
}
function drawBoxPanel(opts){
  const g=mk('g',{},svg,opts.name);
  const {L,R,T,B}=opts;
  const yS=linear(1,3,T+556,T+556-376.4);
  const xS=linear(0.4,2.6,L,R);
  panelFrame(g,L,R,T,B,yS);
  [1,2].forEach(p=>mk('line',{x1:xS(p),x2:xS(p),y1:T,y2:B,stroke:GRID,'stroke-width':2.4},g,'x-major-gridline'));
  [[opts.boxHigh,1,RED,opts.jitterHigh,'high'],[opts.boxLow,2,TEAL,opts.jitterLow,'low']].forEach(([b,p,c,pts,nm])=>{
    const gg=mk('g',{},g,'group-'+nm);
    const cx=xS(p),hw=xS(p+0.375)-cx,cw=xS(p+0.148)-cx;
    mk('line',{x1:cx,x2:cx,y1:yS(b[4]),y2:yS(b[0]),stroke:'#222','stroke-width':2.2},gg,'whisker');
    mk('line',{x1:cx-cw,x2:cx+cw,y1:yS(b[4]),y2:yS(b[4]),stroke:'#222','stroke-width':2.6},gg,'upper-whisker-cap');
    mk('line',{x1:cx-cw,x2:cx+cw,y1:yS(b[0]),y2:yS(b[0]),stroke:'#222','stroke-width':2.6},gg,'lower-whisker-cap');
    mk('rect',{x:cx-hw,y:yS(b[3]),width:2*hw,height:yS(b[1])-yS(b[3]),fill:c,stroke:'#333','stroke-width':3},gg,'box');
    mk('line',{x1:cx-hw,x2:cx+hw,y1:yS(b[2]),y2:yS(b[2]),stroke:'#333','stroke-width':6},gg,'median-line');
    pts.forEach(q=>mk('circle',{cx:xS(q[0]),cy:yS(q[1]),r:4.8,fill:c},gg,'jitter-point'));
  });
  panelBorder(g,L,R,T,B,yS,opts.titleX);
  [1,2].forEach((p,i)=>{
    mk('line',{x1:xS(p),x2:xS(p),y1:B,y2:B+6,stroke:BORDER,'stroke-width':2},g,'x-tick');
    txt(groupLabels[i],xS(p),B+24,23,TICKTXT,'middle',g,'x-tick-label');
  });
  txt(opts.gene,(L+R)/2,B+52,26,'#000','middle',g,'x-axis-title');
  txt(opts.pText,opts.pX,T+26,25,'#000','middle',g,'p-value-label');
}
function drawScatterPanel(opts){
  const g=mk('g',{},svg,opts.name);
  const {L,R,T,B}=opts;
  const yS=linear(1,3,T+556,T+556-376.4);
  const xS=linear(opts.ticks[0],opts.ticks[opts.ticks.length-1],opts.t0,opts.t1);
  panelFrame(g,L,R,T,B,yS);
  const st=opts.ticks[1]-opts.ticks[0];
  const minors=opts.ticks.map(t=>t+st/2).concat([opts.ticks[0]-st/2]);
  minors.forEach(v=>{const x=xS(v);if(x>L&&x<R)mk('line',{x1:x,x2:x,y1:T,y2:B,stroke:GRID,'stroke-width':1.2},g,'x-minor-gridline');});
  opts.ticks.forEach(v=>mk('line',{x1:xS(v),x2:xS(v),y1:T,y2:B,stroke:GRID,'stroke-width':2.4},g,'x-major-gridline'));
  opts.points.forEach(q=>mk('circle',{cx:xS(q[0]),cy:yS(q[1]),r:4.2,fill:'#000'},g,'scatter-point'));
  const upper=opts.fitX.map((x,i)=>xS(x)+','+yS(opts.fit[i]+opts.half[i]));
  const lower=opts.fitX.map((x,i)=>xS(x)+','+yS(opts.fit[i]-opts.half[i])).reverse();
  mk('polygon',{points:upper.concat(lower).join(' '),fill:'#999','fill-opacity':0.4},g,'confidence-band');
  mk('polyline',{points:opts.fitX.map((x,i)=>xS(x)+','+yS(opts.fit[i])).join(' '),fill:'none',stroke:'#3C5FB0','stroke-width':4.5},g,'regression-line');
  panelBorder(g,L,R,T,B,yS,opts.titleX);
  opts.ticks.forEach((v,i)=>{
    mk('line',{x1:xS(v),x2:xS(v),y1:B,y2:B+6,stroke:BORDER,'stroke-width':2},g,'x-tick');
    txt(opts.labels[i],xS(v),B+24,23,TICKTXT,'middle',g,'x-tick-label');
  });
  txt(opts.xTitle,(L+R)/2,B+52,26,'#000','middle',g,'x-axis-title');
}
drawBoxPanel({name:'panel-a-boxplot',L:173,R:956,T:119,B:680,titleX:142,gene:'CA9',pText:'p = 0.0011',pX:600,boxHigh:ca9BoxHigh,boxLow:ca9BoxLow,jitterHigh:ca9JitterHigh,jitterLow:ca9JitterLow});
drawScatterPanel({name:'panel-a-scatter',L:1045,R:1828,T:119,B:680,titleX:1013,ticks:ca9XTicks,labels:ca9XLabels,t0:1081,t1:1776,points:ca9Scatter,fitX:ca9FitX,fit:ca9Fit,half:ca9FitHalf,xTitle:'CA9 expression'});
drawBoxPanel({name:'panel-b-boxplot',L:2176.5,R:2959,T:119,B:680,titleX:2144,gene:'CYP2C9',pText:'p = 0.00036',pX:2607,boxHigh:cypBoxHigh,boxLow:cypBoxLow,jitterHigh:cypJitterHigh,jitterLow:cypJitterLow});
drawScatterPanel({name:'panel-b-scatter',L:3048,R:3830,T:119,B:680,titleX:3017,ticks:cypXTicks,labels:cypXLabels,t0:3080,t1:3673,points:cypScatter,fitX:cypFitX,fit:cypFit,half:cypFitHalf,xTitle:'CYP2C9 expression'});
drawBoxPanel({name:'panel-c-boxplot',L:173,R:956,T:943,B:1504,titleX:142,gene:'FABP5',pText:'p = 2.4e−12',pX:604,boxHigh:fabBoxHigh,boxLow:fabBoxLow,jitterHigh:fabJitterHigh,jitterLow:fabJitterLow});
drawScatterPanel({name:'panel-c-scatter',L:1045,R:1828,T:943,B:1504,titleX:1013,ticks:fabXTicks,labels:fabXLabels,t0:1074,t1:1696,points:fabScatter,fitX:fabFitX,fit:fabFit,half:fabFitHalf,xTitle:'FABP5 expression'});
drawBoxPanel({name:'panel-d-boxplot',L:2176.5,R:2959,T:943,B:1504,titleX:2144,gene:'UCK2',pText:'p = 1.7e−07',pX:2607,boxHigh:uckBoxHigh,boxLow:uckBoxLow,jitterHigh:uckJitterHigh,jitterLow:uckJitterLow});
drawScatterPanel({name:'panel-d-scatter',L:3048,R:3830,T:943,B:1504,titleX:3017,ticks:uckXTicks,labels:uckXLabels,t0:3141,t1:3732,points:uckScatter,fitX:uckFitX,fit:uckFit,half:uckFitHalf,xTitle:'UCK2 expression'});

/* Panel E */
(function(){
  const g=mk('g',{},svg,'panel-e-immune-boxplot');
  const L=139.7,R=2624,T=1813,B=2858;
  const yS=linear(0,0.6,2811,1834.6);
  const xS=linear(1,22,205.7,2557);
  mk('rect',{x:L,y:T,width:R-L,height:B-T,fill:'#fff'},g,'panel-background');
  infilMinor.forEach(v=>mk('line',{x1:L,x2:R,y1:yS(v),y2:yS(v),stroke:GRID,'stroke-width':1.5},g,'y-minor-gridline'));
  infilTicks.forEach(v=>mk('line',{x1:L,x2:R,y1:yS(v),y2:yS(v),stroke:GRID,'stroke-width':3},g,'y-major-gridline'));
  cellTypes.forEach((c,i)=>mk('line',{x1:xS(i+1),x2:xS(i+1),y1:T,y2:B,stroke:GRID,'stroke-width':3},g,'x-major-gridline'));
  const series=[['low','#4DBBD5',-0.1875,lowTop,lowQ3,lowMedian,lowQ1,lowBottom],['high','#E64B35',0.1875,highTop,highQ3,highMedian,highQ1,highBottom]];
  series.forEach(s=>{
    cellTypes.forEach((c,i)=>{
      const x=xS(i+1+s[2]),hw=xS(1.175)-xS(1);
      mk('line',{x1:x,x2:x,y1:yS(s[3][i]),y2:yS(s[7][i]),stroke:'#333','stroke-width':3},g,'whisker-'+s[0]);
      mk('rect',{x:x-hw,y:yS(s[4][i]),width:2*hw,height:Math.max(0,yS(s[6][i])-yS(s[4][i])),fill:s[1],stroke:'#333','stroke-width':3},g,'box-'+s[0]);
      mk('line',{x1:x-hw,x2:x+hw,y1:yS(s[5][i]),y2:yS(s[5][i]),stroke:'#333','stroke-width':6},g,'median-'+s[0]);
    });
  });
  cellTypes.forEach((c,i)=>txt(sigLabels[i],xS(i+1),1860,34,'#000','middle',g,'significance-label'));
  mk('rect',{x:L,y:T,width:R-L,height:B-T,fill:'none',stroke:BORDER,'stroke-width':2.5},g,'panel-border');
  infilTicks.forEach((v,i)=>{
    mk('line',{x1:L-7,x2:L,y1:yS(v),y2:yS(v),stroke:BORDER,'stroke-width':2.5},g,'y-tick');
    txt(infilLabels[i],L-12,yS(v)+11,31.5,TICKTXT,'end',g,'y-tick-label');
  });
  cellTypes.forEach((c,i)=>{
    const x=xS(i+1);
    mk('line',{x1:x,x2:x,y1:B,y2:B+7,stroke:BORDER,'stroke-width':2.5},g,'x-tick');
    const ax=x+25,ay=2895;
    txt(c,ax,ay,31.5,TICKTXT,'end',g,'x-tick-label','rotate(-45 '+ax+' '+ay+')');
  });
  txt('Immune Infiltration',66,(T+B)/2-6+0,36,'#000','middle',g,'y-axis-title','rotate(-90 66 '+((T+B)/2-6)+')');
  const lg=mk('g',{},g,'group-legend');
  txt('Group',2680,2284,35,'#000','start',lg,'legend-title');
  [['Low','#4DBBD5',2333],['High','#E64B35',2390]].forEach(e=>{
    mk('line',{x1:2707.5,x2:2707.5,y1:e[2]-22,y2:e[2]+22,stroke:'#333','stroke-width':3},lg,'legend-key-whisker');
    mk('rect',{x:2686,y:e[2]-14,width:43,height:28,fill:e[1],stroke:'#333','stroke-width':3},lg,'legend-key-box');
    mk('line',{x1:2686,x2:2729,y1:e[2],y2:e[2],stroke:'#333','stroke-width':4},lg,'legend-key-median');
    txt(e[0],2753,e[2]+10,29,'#000','start',lg,'legend-entry');
  });
})();

/* Panel F */
(function(){
  const g=mk('g',{},svg,'panel-f-correlation-heatmap');
  const L=3496,T=1848,CW=53.4,RH=53.32;
  const low=[77,187,213],mid=[255,255,255],high=[230,75,53];
  function colour(v){
    const t=Math.min(1,Math.abs(v)),e=v<0?low:high;
    const c=mid.map((m,i)=>Math.round(m+(e[i]-m)*t));
    return 'rgb('+c.join(',')+')';
  }
  const columns=[[corrCYP2C9,starsCYP2C9],[corrFABP5,starsFABP5],[corrUCK2,starsUCK2],[corrCA9,starsCA9]];
  columns.forEach((col,j)=>{
    heatRows.forEach((r,i)=>{
      mk('rect',{x:L+j*CW,y:T+i*RH,width:CW+0.5,height:RH+0.5,fill:colour(col[0][i])},g,'heatmap-cell');
    });
  });
  columns.forEach((col,j)=>{
    heatRows.forEach((r,i)=>{
      if(col[1][i])txt(col[1][i],L+(j+0.5)*CW,T+(i+0.5)*RH+13,34,'#000','middle',g,'cell-significance');
    });
  });
  heatRows.forEach((r,i)=>txt(r,3489,T+(i+0.5)*RH+14,39,'#000','end',g,'row-label'));
  heatCols.forEach((c,j)=>{
    const ax=L+(j+0.5)*CW+24,ay=3040;
    txt(c,ax,ay,41,'#000','end',g,'column-label','rotate(-45 '+ax+' '+ay+')');
  });
  const lg=mk('g',{},g,'correlation-legend');
  txt('Correlation',3734,2298,35,'#000','start',lg,'legend-title');
  mk('rect',{x:3734,y:2318,width:56,height:283,fill:'url(#corrGrad)'},lg,'colorbar');
  const yL=linear(-1,1,2601,2318);
  corrLegendTicks.forEach((v,i)=>{
    mk('line',{x1:3734,x2:3745,y1:yL(v),y2:yL(v),stroke:'#fff','stroke-width':1.5},lg,'colorbar-tick-left');
    mk('line',{x1:3779,x2:3790,y1:yL(v),y2:yL(v),stroke:'#fff','stroke-width':1.5},lg,'colorbar-tick-right');
    txt(corrLegendLabels[i],3809,yL(v)+10,29,'#000','start',lg,'colorbar-label');
  });
})();
</script>
</body>
</html>
